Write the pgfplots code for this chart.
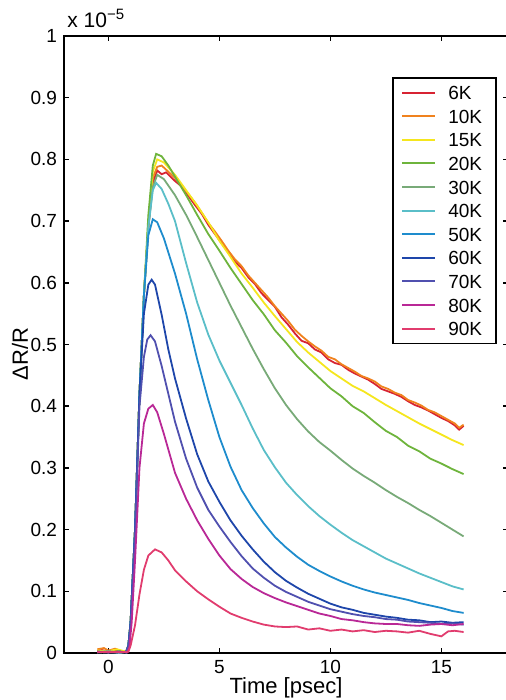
\documentclass[border=0pt]{standalone}
\usepackage{pgfplots}
\pgfplotsset{compat=1.18}
\usepackage{fontspec}
\setmainfont{Liberation Sans}
\definecolor{c6}{RGB}{215,35,50}
\definecolor{c10}{RGB}{240,130,30}
\definecolor{c15}{RGB}{245,230,30}
\definecolor{c20}{RGB}{110,180,60}
\definecolor{c30}{RGB}{120,170,120}
\definecolor{c40}{RGB}{90,190,200}
\definecolor{c50}{RGB}{30,140,205}
\definecolor{c60}{RGB}{30,70,170}
\definecolor{c70}{RGB}{80,80,175}
\definecolor{c80}{RGB}{185,40,150}
\definecolor{c90}{RGB}{225,60,110}
\begin{document}
\begin{tikzpicture}
\begin{axis}[
  at={(0,0)}, anchor=south west,
  scale only axis, width=222pt, height=308.5pt,
  xmin=-2, xmax=18, ymin=0, ymax=1,
  xtick={0,5,10,15}, xticklabels={0,5,10,15},
  ytick={0,0.1,0.2,0.3,0.4,0.5,0.6,0.7,0.8,0.9,1},
  yticklabels={0,0.1,0.2,0.3,0.4,0.5,0.6,0.7,0.8,0.9,1},
  /pgf/number format/assume math mode=true,
  tick align=inside, major tick length=2.5pt,
  axis line style={line width=1pt, black},
  every tick/.style={black, line width=0.8pt},
  ticklabel style={font=\fontsize{9.5}{11}\selectfont},
  xlabel={Time [psec]},
  xlabel style={font=\fontsize{11}{13}\selectfont, at={(axis description cs:0.5,0)}, anchor=center, yshift=-17.5pt},
  legend cell align=left,
  legend style={at={(rel axis cs:0.975,0.9335)}, anchor=north east, draw=black, line width=0.8pt,
    font=\fontsize{9.5}{11}\selectfont, inner xsep=4pt, inner ysep=1.5pt, row sep=0pt, column sep=3pt,
    nodes={text height=7pt, text depth=0pt, inner ysep=2.4pt, inner xsep=3pt}},
  legend image code/.code={\draw[#1, line width=1pt] (0pt,0pt) -- (16.5pt,0pt);},
  every axis plot/.append style={line width=0.9pt},
]
\addplot[c6] coordinates {(-0.5,0.003)(-0.3,0.005)(0,0.002)(0.3,0.004)(0.6,0.001)(0.8,0.002)(0.9,0.012)(1.0,0.05)(1.2,0.2)(1.4,0.42)(1.6,0.58)(1.8,0.69)(2.0,0.762)(2.2,0.782)(2.4,0.776)(2.6,0.779)(2.8,0.772)(3.0,0.765)(3.3,0.756)(3.6,0.741)(3.9,0.726)(4.2,0.712)(4.5,0.694)(4.8,0.679)(5.1,0.664)(5.4,0.651)(5.7,0.634)(6.0,0.624)(6.3,0.609)(6.6,0.598)(6.9,0.583)(7.2,0.572)(7.5,0.561)(7.8,0.544)(8.1,0.532)(8.4,0.518)(8.7,0.506)(9.0,0.502)(9.3,0.492)(9.6,0.487)(9.9,0.476)(10.2,0.47)(10.5,0.467)(10.8,0.459)(11.1,0.453)(11.4,0.448)(11.7,0.443)(12.0,0.436)(12.3,0.428)(12.6,0.424)(12.9,0.42)(13.2,0.415)(13.5,0.408)(13.8,0.402)(14.1,0.398)(14.4,0.393)(14.7,0.387)(15.0,0.381)(15.3,0.376)(15.6,0.369)(15.8,0.362)(16.0,0.368)};
\addlegendentry{6K}
\addplot[c10] coordinates {(-0.5,0.006)(-0.2,0.008)(0,0.004)(0.3,0.007)(0.6,0.002)(0.8,0.003)(0.9,0.012)(1.0,0.05)(1.2,0.2)(1.4,0.42)(1.6,0.58)(1.8,0.69)(2.0,0.77)(2.2,0.788)(2.4,0.79)(2.7,0.78)(3.0,0.77)(3.3,0.758)(3.6,0.744)(3.9,0.73)(4.2,0.714)(4.5,0.697)(4.8,0.683)(5.1,0.668)(5.4,0.652)(5.7,0.638)(6.0,0.627)(6.3,0.612)(6.6,0.6)(6.9,0.588)(7.2,0.576)(7.5,0.562)(7.8,0.55)(8.1,0.538)(8.4,0.524)(8.7,0.514)(9.0,0.505)(9.3,0.497)(9.6,0.49)(9.9,0.48)(10.2,0.476)(10.5,0.468)(10.8,0.462)(11.1,0.456)(11.4,0.449)(11.7,0.445)(12.0,0.44)(12.3,0.432)(12.6,0.428)(12.9,0.422)(13.2,0.418)(13.5,0.41)(13.8,0.406)(14.1,0.401)(14.4,0.394)(14.7,0.39)(15.0,0.384)(15.3,0.378)(15.6,0.372)(15.8,0.365)(16.0,0.37)};
\addlegendentry{10K}
\addplot[c15] coordinates {(-0.5,0.004)(0,0.003)(0.4,0.006)(0.8,0.002)(0.9,0.012)(1.0,0.05)(1.2,0.2)(1.4,0.42)(1.6,0.58)(1.8,0.7)(2.0,0.78)(2.2,0.8)(2.5,0.795)(3.0,0.775)(3.5,0.75)(4.0,0.725)(4.5,0.698)(5.0,0.668)(5.5,0.642)(6.0,0.615)(6.5,0.592)(7.0,0.568)(7.5,0.546)(8.0,0.525)(8.5,0.504)(9.0,0.487)(9.5,0.472)(10.0,0.457)(10.5,0.445)(11.0,0.433)(11.5,0.424)(12.0,0.413)(12.5,0.402)(13.0,0.392)(13.5,0.382)(14.0,0.372)(14.5,0.363)(15.0,0.354)(15.5,0.345)(16.0,0.337)};
\addlegendentry{15K}
\addplot[c20] coordinates {(-0.5,0.002)(0,0.001)(0.5,0.003)(0.8,0.001)(0.9,0.012)(1.0,0.05)(1.2,0.2)(1.4,0.42)(1.6,0.58)(1.8,0.71)(2.0,0.79)(2.15,0.809)(2.4,0.805)(2.7,0.79)(3.0,0.772)(3.5,0.742)(4.0,0.71)(4.5,0.679)(5.0,0.652)(5.5,0.624)(6.0,0.598)(6.5,0.572)(7.0,0.549)(7.5,0.523)(8.0,0.503)(8.5,0.481)(9.0,0.463)(9.5,0.446)(10.0,0.429)(10.5,0.416)(11.0,0.4)(11.5,0.389)(12.0,0.374)(12.5,0.36)(13.0,0.35)(13.5,0.336)(14.0,0.327)(14.5,0.315)(15.0,0.307)(15.5,0.298)(16.0,0.29)};
\addlegendentry{20K}
\addplot[c30] coordinates {(-0.5,0.002)(0,0.003)(0.5,0.001)(0.8,0.002)(0.9,0.012)(1.0,0.05)(1.2,0.2)(1.4,0.42)(1.6,0.58)(1.8,0.69)(2.0,0.755)(2.2,0.775)(2.5,0.768)(3.0,0.742)(3.5,0.71)(4.0,0.674)(4.5,0.637)(5.0,0.6)(5.5,0.563)(6.0,0.528)(6.5,0.493)(7.0,0.46)(7.5,0.429)(8.0,0.402)(8.5,0.379)(9.0,0.359)(9.5,0.342)(10.0,0.328)(10.5,0.313)(11.0,0.299)(11.5,0.287)(12.0,0.276)(12.5,0.264)(13.0,0.253)(13.5,0.243)(14.0,0.232)(14.5,0.222)(15.0,0.211)(15.5,0.2)(16.0,0.189)};
\addlegendentry{30K}
\addplot[c40] coordinates {(-0.5,0.001)(0,0.002)(0.5,0.0)(0.8,0.002)(0.9,0.012)(1.0,0.05)(1.2,0.2)(1.4,0.42)(1.6,0.58)(1.8,0.69)(2.0,0.75)(2.15,0.762)(2.4,0.752)(2.7,0.728)(3.0,0.70)(3.5,0.632)(4.0,0.568)(4.5,0.516)(5.0,0.474)(5.5,0.438)(6.0,0.402)(6.5,0.364)(7.0,0.329)(7.5,0.301)(8.0,0.276)(8.5,0.256)(9.0,0.238)(9.5,0.222)(10.0,0.208)(10.5,0.195)(11.0,0.183)(11.5,0.173)(12.0,0.163)(12.5,0.153)(13.0,0.145)(13.5,0.137)(14.0,0.129)(14.5,0.122)(15.0,0.115)(15.5,0.108)(16.0,0.103)};
\addlegendentry{40K}
\addplot[c50] coordinates {(-0.5,0.002)(0,0.001)(0.5,0.002)(0.8,0.001)(0.9,0.012)(1.0,0.05)(1.2,0.2)(1.4,0.42)(1.6,0.58)(1.8,0.677)(2.0,0.703)(2.2,0.698)(2.5,0.672)(3.0,0.615)(3.5,0.55)(4.0,0.476)(4.5,0.41)(5.0,0.35)(5.5,0.302)(6.0,0.264)(6.5,0.235)(7.0,0.21)(7.5,0.188)(8.0,0.171)(8.5,0.156)(9.0,0.143)(9.5,0.133)(10.0,0.124)(10.5,0.116)(11.0,0.109)(11.5,0.103)(12.0,0.098)(12.5,0.094)(13.0,0.09)(13.5,0.086)(14.0,0.081)(14.5,0.077)(15.0,0.073)(15.5,0.068)(16.0,0.065)};
\addlegendentry{50K}
\addplot[c60] coordinates {(-0.5,0.001)(0,0.002)(0.5,0.001)(0.8,0.002)(0.9,0.012)(1.0,0.05)(1.2,0.2)(1.4,0.42)(1.6,0.55)(1.8,0.597)(1.95,0.605)(2.1,0.597)(2.4,0.548)(2.7,0.492)(3.0,0.445)(3.5,0.38)(4.0,0.322)(4.5,0.278)(5.0,0.245)(5.5,0.215)(6.0,0.19)(6.5,0.168)(7.0,0.148)(7.5,0.131)(8.0,0.117)(8.5,0.106)(9.0,0.096)(9.5,0.088)(10.0,0.08)(10.5,0.074)(11.0,0.07)(11.5,0.065)(12.0,0.062)(12.5,0.059)(13.0,0.057)(13.5,0.054)(14.0,0.053)(14.5,0.05)(15.0,0.051)(15.5,0.049)(16.0,0.05)};
\addlegendentry{60K}
\addplot[c70] coordinates {(-0.5,0.002)(0,0.001)(0.5,0.002)(0.8,0.001)(0.9,0.01)(1.0,0.045)(1.2,0.19)(1.4,0.40)(1.6,0.48)(1.75,0.508)(1.9,0.515)(2.1,0.505)(2.4,0.465)(2.7,0.42)(3.0,0.375)(3.5,0.315)(4.0,0.268)(4.5,0.232)(5.0,0.205)(5.5,0.18)(6.0,0.157)(6.5,0.137)(7.0,0.122)(7.5,0.109)(8.0,0.099)(8.5,0.091)(9.0,0.083)(9.5,0.077)(10.0,0.071)(10.5,0.067)(11.0,0.063)(11.5,0.06)(12.0,0.058)(12.5,0.055)(13.0,0.054)(13.5,0.051)(14.0,0.05)(14.5,0.049)(15.0,0.047)(15.5,0.048)(16.0,0.046)};
\addlegendentry{70K}
\addplot[c80] coordinates {(-0.5,0.002)(0,0.001)(0.5,0.002)(0.85,0.001)(0.95,0.01)(1.05,0.05)(1.2,0.15)(1.4,0.3)(1.6,0.372)(1.8,0.396)(2.0,0.402)(2.2,0.39)(2.5,0.355)(3.0,0.292)(3.5,0.25)(4.0,0.215)(4.5,0.185)(5.0,0.158)(5.5,0.136)(6.0,0.12)(6.5,0.107)(7.0,0.097)(7.5,0.089)(8.0,0.082)(8.5,0.076)(9.0,0.07)(9.5,0.064)(10.0,0.06)(10.5,0.055)(11.0,0.053)(11.5,0.05)(12.0,0.048)(12.5,0.047)(13.0,0.047)(13.5,0.045)(14.0,0.044)(14.5,0.046)(15.0,0.047)(15.5,0.045)(16.0,0.047)};
\addlegendentry{80K}
\addplot[c90] coordinates {(-0.5,0.001)(0,0.002)(0.5,0.001)(0.9,0.002)(1.0,0.012)(1.2,0.045)(1.4,0.095)(1.6,0.135)(1.8,0.158)(2.1,0.168)(2.4,0.163)(2.7,0.15)(3.0,0.134)(3.5,0.116)(4.0,0.1)(4.5,0.087)(5.0,0.075)(5.5,0.064)(6.0,0.057)(6.5,0.051)(7.0,0.046)(7.5,0.043)(8.0,0.042)(8.5,0.043)(9.0,0.038)(9.5,0.04)(10.0,0.036)(10.5,0.038)(11.0,0.035)(11.5,0.037)(12.0,0.034)(12.5,0.036)(13.0,0.035)(13.5,0.033)(14.0,0.036)(14.5,0.031)(15.0,0.027)(15.3,0.035)(15.6,0.036)(16.0,0.034)};
\addlegendentry{90K}
\end{axis}
\node[anchor=south west, inner sep=0pt, font=\fontsize{10.5}{12}\selectfont] at ([xshift=1.5pt, yshift=4pt]current axis.north west) {x 10\raisebox{0.75ex}{\fontsize{7.5}{8}\selectfont −5}};
\node[rotate=90, inner sep=0pt, font=\fontsize{11}{13}\selectfont] at ([xshift=-22pt, yshift=-4.75pt]current axis.west) {ΔR/R};
\pgfresetboundingbox
\path[use as bounding box] (-32pt,-23.5pt) rectangle (220.5pt,326.5pt);
\end{tikzpicture}
\end{document}
